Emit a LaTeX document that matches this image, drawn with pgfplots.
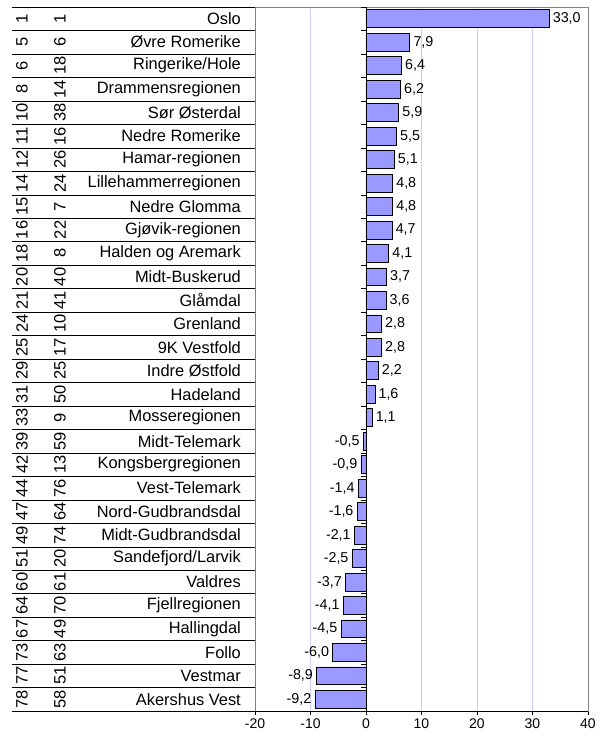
\documentclass[border=0pt]{standalone}
\usepackage{fontspec}
\setmainfont{Liberation Sans}
\usepackage{pgfplots}
\usepackage{pgfplotstable}
\pgfplotsset{compat=1.18}
\definecolor{barfill}{RGB}{153,153,255}
\definecolor{gridc}{RGB}{204,204,255}
\definecolor{framec}{RGB}{128,128,128}
\tikzset{num/.style={rotate=90, anchor=center, inner sep=0pt, font=\fontsize{16.5}{18}\selectfont}}
\pgfplotstableread[col sep=comma]{
idx,a,b,name,val
1,1,1,Oslo,33.0
2,5,6,Øvre Romerike,7.9
3,6,18,Ringerike/Hole,6.4
4,8,14,Drammensregionen,6.2
5,10,38,Sør Østerdal,5.9
6,11,16,Nedre Romerike,5.5
7,12,26,Hamar-regionen,5.1
8,14,24,Lillehammerregionen,4.8
9,15,7,Nedre Glomma,4.8
10,16,22,Gjøvik-regionen,4.7
11,18,8,Halden og Aremark,4.1
12,20,40,Midt-Buskerud,3.7
13,21,41,Glåmdal,3.6
14,24,10,Grenland,2.8
15,25,17,9K Vestfold,2.8
16,29,25,Indre Østfold,2.2
17,31,50,Hadeland,1.6
18,33,9,Mosseregionen,1.1
19,39,59,Midt-Telemark,-0.5
20,42,13,Kongsbergregionen,-0.9
21,44,76,Vest-Telemark,-1.4
22,47,64,Nord-Gudbrandsdal,-1.6
23,49,74,Midt-Gudbrandsdal,-2.1
24,51,20,Sandefjord/Larvik,-2.5
25,60,61,Valdres,-3.7
26,64,70,Fjellregionen,-4.1
27,67,49,Hallingdal,-4.5
28,73,63,Follo,-6.0
29,77,51,Vestmar,-8.9
30,78,58,Akershus Vest,-9.2
}\data

\begin{document}
\begin{tikzpicture}
\begin{axis}[
  scale only axis, width=333pt, height=704pt,
  xmin=-20, xmax=40, ymin=0.5, ymax=30.5, y dir=reverse,
  clip=false,
  xtick={-20,-10,...,40},
  xtick pos=bottom, tick align=outside,
  x tick style={black, thin}, major tick length=4pt,
  xmajorgrids, major grid style={gridc, thin},
  ytick={1,...,30},
  yticklabels from table={\data}{name},
  y tick style={draw=none},
  ytick pos=left,
  axis line style={framec, thin},
  /pgf/number format/assume math mode=true,
  xticklabel style={font=\fontsize{14}{16}\selectfont},
  yticklabel style={font=\fontsize{16.4}{18}\selectfont, anchor=east, inner sep=0pt, xshift=-10pt},
]
\pgfplotsinvokeforeach{0,...,30}{
  \draw[black, thin] ([xshift=-243pt]axis cs:-20,#1.5) -- (axis cs:-20,#1.5);
  \draw[black, thin] (axis cs:0,#1.5) -- ++(-5pt,0pt);
}
\draw[black, thin] (axis cs:0,0.5) -- (axis cs:0,30.5);
\draw[black, thin] (axis cs:-20,30.5) -- (axis cs:40,30.5);
\addplot[xbar, bar width=0.76, fill=barfill, draw=black, line width=0.7pt,
  nodes near coords, nodes near coords align={horizontal}, point meta=x,
  nodes near coords style={font=\fontsize{14.3}{16}\selectfont, black},
  /pgf/number format/fixed, /pgf/number format/fixed zerofill,
  /pgf/number format/precision=1, /pgf/number format/use comma]
  table[x=val, y=idx] {\data};
\pgfplotsforeachungrouped \i/\ca in {1/1,2/5,3/6,4/8,5/10,6/11,7/12,8/14,9/15,10/16,11/18,12/20,13/21,14/24,15/25,16/29,17/31,18/33,19/39,20/42,21/44,22/47,23/49,24/51,25/60,26/64,27/67,28/73,29/77,30/78}{
  \edef\tmp{\noexpand\node[num] at ([xshift=-233pt]axis cs:-20,\i) {\ca};}
  \tmp
}
\pgfplotsforeachungrouped \i/\cb in {1/1,2/6,3/18,4/14,5/38,6/16,7/26,8/24,9/7,10/22,11/8,12/40,13/41,14/10,15/17,16/25,17/50,18/9,19/59,20/13,21/76,22/64,23/74,24/20,25/61,26/70,27/49,28/63,29/51,30/58}{
  \edef\tmp{\noexpand\node[num] at ([xshift=-195pt]axis cs:-20,\i) {\cb};}
  \tmp
}
\path ([xshift=-255pt,yshift=7pt]axis cs:-20,0.5) rectangle ([xshift=14pt,yshift=-26pt]axis cs:40,30.5);
\end{axis}
\end{tikzpicture}
\end{document}
